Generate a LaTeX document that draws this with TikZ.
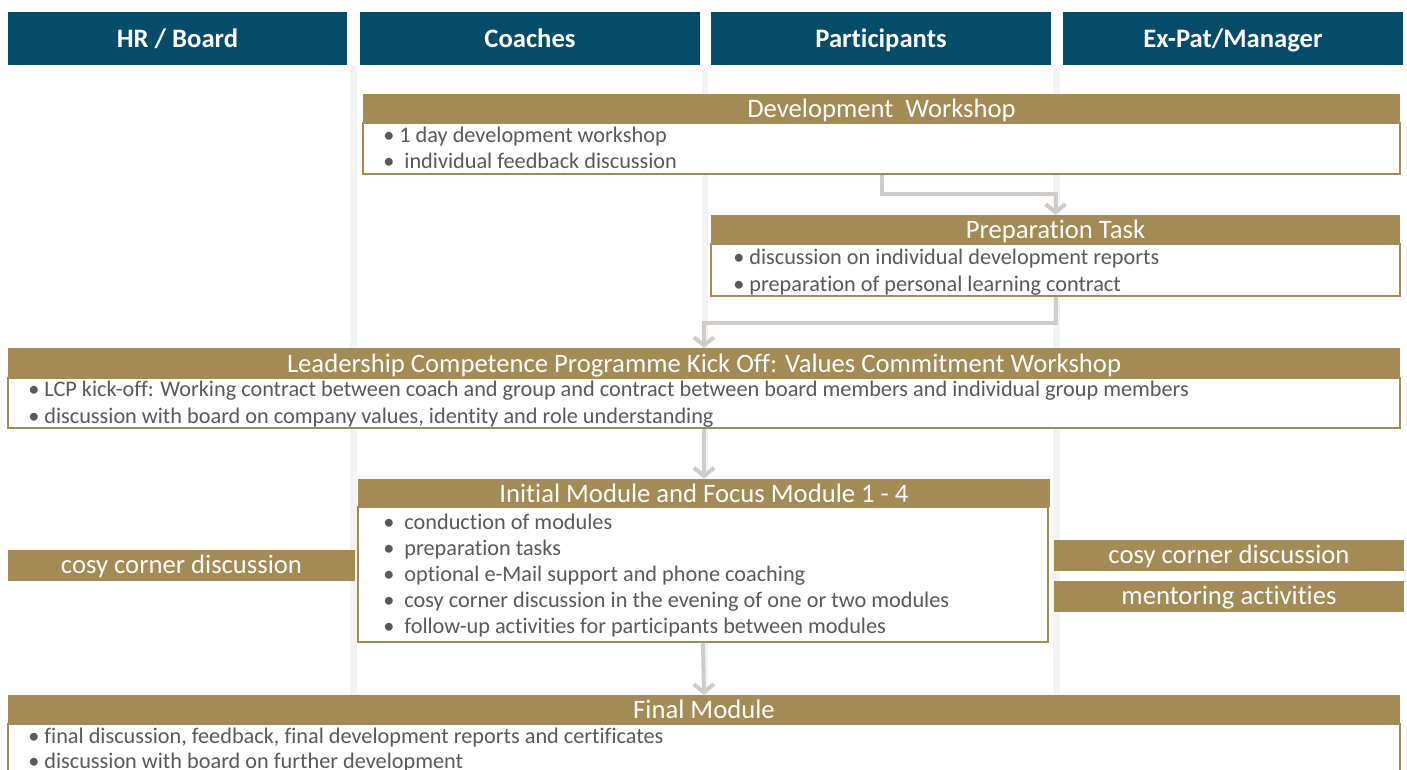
\documentclass[tikz,border=0pt]{standalone}
\usepackage{fontspec}
\setmainfont[Ligatures=NoCommon]{Carlito}
\usetikzlibrary{arrows.meta}
\definecolor{hdrblue}{RGB}{5,75,106}
\definecolor{gold}{RGB}{164,139,86}
\definecolor{arrgray}{RGB}{208,203,198}
\definecolor{stripgray}{RGB}{243,243,243}
\definecolor{txtgray}{RGB}{89,89,89}
\newcommand\PX[1]{#1*0.75pt}
\tikzset{
  hdr/.style={fill=hdrblue, text=white, inner sep=0pt, text height=18pt, text depth=4pt, font=\bfseries\fontsize{20}{22}\selectfont},
  ttl/.style={fill=gold, text=white, inner sep=0pt, text height=17.5pt, text depth=4pt, font=\fontsize{20}{22}\selectfont},
  bodybox/.style={draw=gold, line width=1.1pt, fill=white, inner sep=0pt},
  bodytxt/.style={anchor=base west, inner sep=0pt, text=txtgray, font=\fontsize{16.7}{19}\selectfont},
  side/.style={fill=gold, text=white, inner sep=0pt, text height=15.5pt, text depth=4pt, font=\fontsize{20}{22}\selectfont},
  arr/.style={draw=arrgray, line width=3pt, -{Straight Barb[length=6pt,width=15pt]}},
}
\begin{document}
\begin{tikzpicture}[x=0.75pt,y=-0.75pt]
\clip (0,0) rectangle (1407,769);
\fill[white] (0,0) rectangle (1407,769);
% lane strips
\fill[stripgray] (350,65) rectangle (357,695);
\fill[stripgray] (702,65) rectangle (708,695);
\fill[stripgray] (1053,65) rectangle (1060,695);
% headers
\node[hdr, minimum width=\PX{339}, minimum height=\PX{53}] (hr) at (177.5,38.5) {HR / Board};
\node[hdr, minimum width=\PX{340}, minimum height=\PX{53}] (co) at (530,38.5) {Coaches};
\node[hdr, minimum width=\PX{340}, minimum height=\PX{53}] (pa) at (881,38.5) {Participants};
\node[hdr, minimum width=\PX{340}, minimum height=\PX{53}] (ex) at (1233,38.5) {Ex-Pat/Manager};
% Development Workshop
\node[bodybox, minimum width=\PX{1037}, minimum height=\PX{51}] (devB) at (881.5,148.5) {};
\node[ttl, minimum width=\PX{1037}, minimum height=\PX{29}] (devT) at (881.5,108.5) {Development\ \ Workshop};
\node[bodytxt] (d1) at (383,142.5) {• 1 day development workshop};
\node[bodytxt] (d2) at (383,168.5) {•\ \ individual feedback discussion};
% Preparation Task
\node[bodybox, minimum width=\PX{689}, minimum height=\PX{52}] (prepB) at (1055.5,270) {};
\node[ttl, minimum width=\PX{689}, minimum height=\PX{29}] (prepT) at (1055.5,229.5) {Preparation Task};
\node[bodytxt] (p1) at (733,264.5) {• discussion on individual development reports};
\node[bodytxt] (p2) at (733,291.5) {• preparation of personal learning contract};
% LCP
\node[bodybox, minimum width=\PX{1392}, minimum height=\PX{50}] (lcpB) at (704,403) {};
\node[ttl, minimum width=\PX{1392}, minimum height=\PX{30}] (lcpT) at (704,363) {Leadership Competence Programme Kick Off: Values Commitment Workshop};
\node[bodytxt] (l1) at (28,396.5) {• LCP kick-off: Working contract between coach and group and contract between board members and individual group members};
\node[bodytxt] (l2) at (28,423) {• discussion with board on company values, identity and role understanding};
% Initial Module
\node[bodybox, minimum width=\PX{690}, minimum height=\PX{135}] (initB) at (703,574.5) {};
\node[ttl, minimum width=\PX{692}, minimum height=\PX{28}] (initT) at (704,493) {Initial Module and Focus Module 1 - 4};
\node[bodytxt] (i1) at (383,529.5) {•\ \ conduction of modules};
\node[bodytxt] (i2) at (383,555.5) {•\ \ preparation tasks};
\node[bodytxt] (i3) at (383,581.5) {•\ \ optional e-Mail support and phone coaching};
\node[bodytxt] (i4) at (383,607.5) {•\ \ cosy corner discussion in the evening of one or two modules};
\node[bodytxt] (i5) at (383,633) {•\ \ follow-up activities for participants between modules};
% side boxes
\node[side, minimum width=\PX{347}, minimum height=\PX{31}] (cosyL) at (181.5,565.5) {cosy corner discussion};
\node[side, minimum width=\PX{350}, minimum height=\PX{31}] (cosyR) at (1229,555.5) {cosy corner discussion};
\node[side, minimum width=\PX{350}, minimum height=\PX{31}] (ment) at (1229,596.5) {mentoring activities};
% Final Module
\node[bodybox, minimum width=\PX{1392}, minimum height=\PX{80}] (finB) at (704,764) {};
\node[ttl, minimum width=\PX{1392}, minimum height=\PX{29}] (finT) at (704,709.5) {Final Module};
\node[bodytxt] (f1) at (28,743.5) {• final discussion, feedback, final development reports and certificates};
\node[bodytxt] (f2) at (28,768) {• discussion with board on further development};
% arrows
\draw[arr] (devB.south) -- ++(0,19) -| (prepT.north);
\draw[arr] (prepB.south) -- ++(0,26) -| (lcpT.north);
\draw[arr] (lcpB.south) -- (initT.north);
\draw[arr] (initB.south) -- (finT.north);
\end{tikzpicture}
\end{document}
